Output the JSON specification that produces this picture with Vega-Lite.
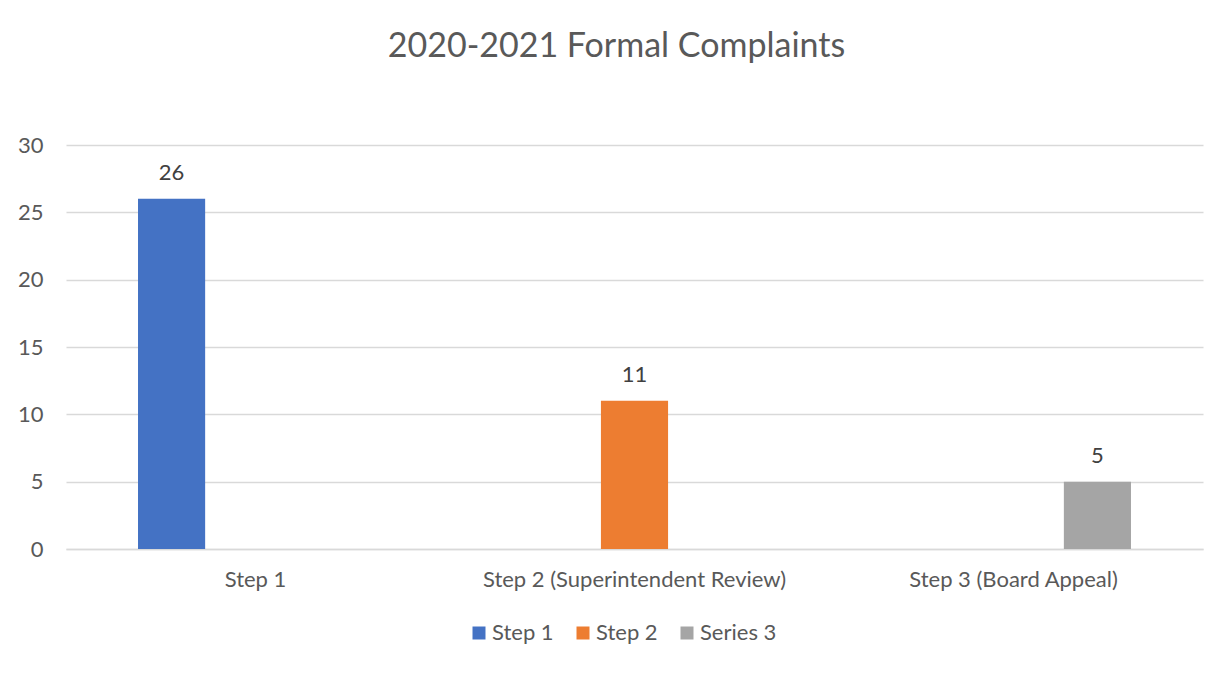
{
  "$schema": "https://vega.github.io/schema/vega-lite/v6.json",
  "width": 1137,
  "height": 404,
  "autosize": "none",
  "padding": {"left": 66, "top": 145, "right": 28, "bottom": 124},
  "background": "white",
  "title": {
    "text": "2020-2021 Formal Complaints",
    "anchor": "middle",
    "frame": "group",
    "dx": -18,
    "offset": 70,
    "font": "Lato",
    "fontSize": 34,
    "fontWeight": "normal",
    "color": "#595959"
  },
  "config": {
    "view": {"stroke": null},
    "font": "Lato"
  },
  "data": {
    "values": [
      {"category": "Step 1", "series": "Step 1", "value": 26},
      {"category": "Step 2 (Superintendent Review)", "series": "Step 2", "value": 11},
      {"category": "Step 3 (Board Appeal)", "series": "Series 3", "value": 5}
    ]
  },
  "encoding": {
    "x": {
      "field": "category",
      "type": "nominal",
      "sort": ["Step 1", "Step 2 (Superintendent Review)", "Step 3 (Board Appeal)"],
      "scale": {"paddingInner": 0.38, "paddingOuter": 0.19},
      "axis": {
        "title": null,
        "labelAngle": 0,
        "labelLimit": 0,
        "labelFont": "Lato",
        "labelFontSize": 22,
        "labelColor": "#595959",
        "labelPadding": 20,
        "ticks": false,
        "domain": true,
        "domainColor": "#D9D9D9",
        "domainWidth": 1.5,
        "grid": false
      }
    },
    "xOffset": {
      "field": "series",
      "type": "nominal",
      "scale": {"domain": ["Step 1", "Step 2", "Series 3"], "paddingInner": 0.2, "paddingOuter": 0}
    },
    "y": {
      "field": "value",
      "type": "quantitative",
      "scale": {"domain": [0, 30], "nice": false},
      "axis": {
        "title": null,
        "values": [0, 5, 10, 15, 20, 25, 30],
        "labelFont": "Lato",
        "labelFontSize": 22,
        "labelColor": "#595959",
        "labelPadding": 23,
        "ticks": false,
        "domain": false,
        "grid": true,
        "gridColor": "#D9D9D9",
        "gridWidth": 1.5
      }
    }
  },
  "layer": [
    {
      "mark": {"type": "bar"},
      "encoding": {
        "color": {
          "field": "series",
          "type": "nominal",
          "scale": {"domain": ["Step 1", "Step 2", "Series 3"], "range": ["#4472C4", "#ED7D31", "#A5A5A5"]},
          "legend": {
            "title": null,
            "orient": "none",
            "direction": "horizontal",
            "legendX": 402,
            "legendY": 477,
            "symbolType": "square",
            "symbolSize": 169,
            "symbolStrokeWidth": 0,
            "labelFont": "Lato",
            "labelFontSize": 22,
            "labelColor": "#595959",
            "labelOffset": 2,
            "columnPadding": 18
          }
        }
      }
    },
    {
      "mark": {"type": "text", "baseline": "bottom", "dy": -14, "font": "Lato", "fontSize": 22, "color": "#404040"},
      "encoding": {
        "text": {"field": "value", "type": "quantitative"}
      }
    }
  ]
}
